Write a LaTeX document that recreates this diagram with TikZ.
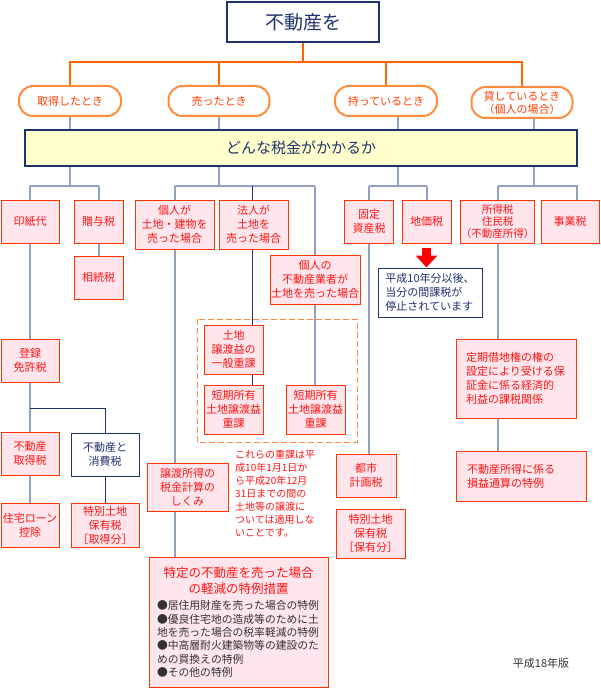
\documentclass[tikz,border=0pt]{standalone}
\usepackage{fontspec}
\setmainfont{Noto Sans CJK JP}
\usetikzlibrary{arrows.meta,backgrounds}
\definecolor{navy}{RGB}{30,50,110}
\definecolor{pillline}{RGB}{255,140,60}
\definecolor{pilltext}{RGB}{255,60,0}
\definecolor{linkorange}{RGB}{255,102,0}
\definecolor{linkgray}{RGB}{145,160,195}
\definecolor{barfill}{RGB}{255,255,204}
\definecolor{boxline}{RGB}{255,51,0}
\definecolor{boxfill}{RGB}{255,230,236}
\definecolor{boxtext}{RGB}{255,20,20}
\definecolor{bodytext}{RGB}{50,50,50}
\definecolor{arrowred}{RGB}{255,0,0}
\begin{document}
\begin{tikzpicture}[x=1pt, y=-1pt,
    every node/.style={inner sep=0pt, font=\fontsize{11}{14}\selectfont},
    boxsize/.style 2 args={minimum width=#1pt, minimum height=#2pt},
    titlebox/.style={draw=navy, line width=2pt, fill=white, text=navy, font=\fontsize{19}{22}\selectfont},
    pill/.style={draw=pillline, line width=2pt, rounded corners=14pt, fill=white, text=pilltext, align=center},
    barbox/.style={draw=navy, line width=1.2pt, fill=barfill, text=navy, font=\fontsize{15}{18}\selectfont},
    taxbox/.style={draw=boxline, line width=1pt, fill=boxfill, text=boxtext, align=center},
    navybox/.style={draw=navy, line width=1pt, fill=white, text=navy, align=center},
    memobox/.style={draw=navy, line width=1pt, fill=white, text=navy, align=left},
    orangeline/.style={draw=linkorange, line width=2.5pt},
    grayline/.style={draw=linkgray, line width=2pt},
    navyline/.style={draw=navy, line width=1pt},
    dashbox/.style={draw=pillline, line width=1pt, dash pattern=on 6pt off 3pt},
    redarrow/.style={draw=arrowred, line width=9pt, -{Triangle[width=21pt,length=12pt]}}]
    \useasboundingbox (0,0) rectangle (600,690);
    % Nodes
    \node[titlebox, boxsize={152}{40}] (top) at (303,22) {不動産を};
    \node[pill, boxsize={102}{30}] (get) at (70,101) {取得したとき};
    \node[pill, boxsize={101}{30}] (sell) at (219,101) {売ったとき};
    \node[pill, boxsize={102}{30}] (hold) at (386,101) {持っているとき};
    \node[pill, boxsize={101}{31}, font=\fontsize{11}{13}\selectfont] (lend) at (522,102.5) {貸しているとき\\（個人の場合）};
    \node[barbox, boxsize={552}{36}] (bar) at (301,148) {どんな税金がかかるか};
    % acquiring
    \node[taxbox, boxsize={58}{43}] (inshi) at (30,221.5) {印紙代};
    \node[taxbox, boxsize={49}{43}] (zouyo) at (98.5,221.5) {贈与税};
    \node[taxbox, boxsize={49}{43}] (souzoku) at (98.5,277.5) {相続税};
    \node[taxbox, boxsize={58}{43}] (touroku) at (30,360.5) {登録\\免許税};
    \node[taxbox, boxsize={58}{43}] (shutoku) at (30,453.5) {不動産\\取得税};
    \node[navybox, boxsize={68}{43}] (shohi) at (105,454.5) {不動産と\\消費税};
    \node[taxbox, boxsize={58}{44}] (loan) at (30,525) {住宅ローン\\控除};
    \node[taxbox, boxsize={68}{44}] (tokuchi1) at (105,525) {特別土地\\保有税\\［取得分］};
    % selling
    \node[taxbox, boxsize={79}{49}] (kojin) at (174.5,224.5) {個人が\\土地・建物を\\売った場合};
    \node[taxbox, boxsize={69}{49}] (houjin) at (253.5,224.5) {法人が\\土地を\\売った場合};
    \node[taxbox, boxsize={90}{49}] (gyosha) at (315,279.5) {個人の\\不動産業者が\\土地を売った場合};
    \node[taxbox, boxsize={59}{49}] (ippan) at (233.5,349.5) {土地\\譲渡益の\\一般重課};
    \node[taxbox, boxsize={59}{49}] (tanki1) at (233.5,409.5) {短期所有\\土地譲渡益\\重課};
    \node[taxbox, boxsize={59}{49}] (tanki2) at (315.5,409.5) {短期所有\\土地譲渡益\\重課};
    \node[taxbox, boxsize={81}{48}] (joto) at (187.5,487) {譲渡所得の\\税金計算の\\しくみ};
    \node[text=boxtext, align=left, anchor=north west, font=\fontsize{10}{13}\selectfont] (memo) at (235,450) {これらの重課は平\\成10年1月1日か\\ら平成20年12月\\31日までの間の\\土地等の譲渡に\\ついては適用しな\\いことです。};
    \node[taxbox, boxsize={179}{130}, text width=163pt, align=left] (tokutei) at (238.5,622) {{\centering\fontsize{12.5}{16.5}\selectfont 特定の不動産を売った場合\\の軽減の特例措置\par}\vspace{3pt}
        {\color{bodytext}\fontsize{10.8}{13.3}\selectfont ●居住用財産を売った場合の特例\\●優良住宅地の造成等のために土\\地を売った場合の税率軽減の特例\\●中高層耐火建築物等の建設のた\\めの買換えの特例\\●その他の特例\par}};
    \draw[dashbox] (197,319) rectangle (357,442);
    % holding
    \node[taxbox, boxsize={49}{43}] (kotei) at (369,221.5) {固定\\資産税};
    \node[taxbox, boxsize={49}{43}] (chika) at (426.5,221.5) {地価税};
    \node[memobox, boxsize={104}{49}] (teishi) at (430,292.5) {平成10年分以後、\\当分の間課税が\\停止されています};
    \node[taxbox, boxsize={60}{43}] (toshi) at (366,475.5) {都市\\計画税};
    \node[taxbox, boxsize={69}{49}] (tokuchi2) at (370.5,533.5) {特別土地\\保有税\\［保有分］};
    % lending
    \node[taxbox, boxsize={73}{43}, font=\fontsize{10.5}{12}\selectfont] (shotoku) at (497.5,221.5) {所得税\\住民税\\（不動産所得）};
    \node[taxbox, boxsize={58}{43}] (jigyo) at (570,221.5) {事業税};
    \node[taxbox, boxsize={120}{79}, text width=100pt, align=left] (teiki) at (516,378.5) {定期借地権の権の\\設定により受ける保\\証金に係る経済的\\利益の課税関係};
    \node[taxbox, boxsize={130}{50}, text width=108pt, align=left] (sonneki) at (521,476) {不動産所得に係る\\損益通算の特例};
    \node[text=bodytext] (edition) at (541,663) {平成18年版};
    % Edges
    \draw[redarrow] ([yshift=-4pt]chika.south) -- (chika.south |- teishi.north);
    \begin{scope}[on background layer]
        \coordinate (fork) at (303,62);
        \draw[orangeline] (top.south) -- (fork);
        \draw[orangeline] (get.north) |- (fork) -| (lend.north);
        \draw[orangeline] (sell.north) -- (sell.north |- fork);
        \draw[orangeline] (hold.north) -- (hold.north |- fork);
        \coordinate (b1) at (70,186);
        \coordinate (b2) at (219,186);
        \coordinate (b3) at (398,186);
        \coordinate (b4) at (534,186);
        \coordinate (b4r) at (577,186);
        \draw[grayline] (get.south) -- (b1);
        \draw[grayline] (sell.south) -- (b2);
        \draw[grayline] (hold.south -| b3) -- (b3);
        \draw[grayline] (lend.south -| b4) -- (b4);
        \draw[grayline] (inshi.north |- b1) -- (zouyo.north |- b1);
        \draw[grayline] (inshi.north |- b1) -- (loan.north);
        \draw[grayline] (zouyo.north |- b1) -- (souzoku.north);
        \coordinate (b1s) at (30,408);
        \draw[navyline] (b1s) -| (shohi.north);
        \draw[navyline] (shohi.south) -- (tokuchi1.north);
        \draw[grayline] (kojin.north |- b2) -- (gyosha.north |- b2);
        \draw[grayline] (kojin.north |- b2) -- (kojin.north |- tokutei.north);
        \draw[grayline] (gyosha.north |- b2) -- (gyosha.north |- tanki2.north);
        \coordinate (b2n) at (252,186);
        \draw[navyline] (b2n) -- (b2n |- tanki1.north);
        \draw[grayline] (kotei.north |- b3) -- (chika.north |- b3);
        \draw[grayline] (kotei.north |- b3) -- (kotei.north |- toshi.north);
        \draw[grayline] (chika.north |- b3) -- (chika.north);
        \draw[grayline] (shotoku.north |- b4) -- (b4r) -- (b4r |- jigyo.north);
        \draw[grayline] (shotoku.north |- b4) -- (shotoku.north |- sonneki.north);
    \end{scope}
\end{tikzpicture}
\end{document}
